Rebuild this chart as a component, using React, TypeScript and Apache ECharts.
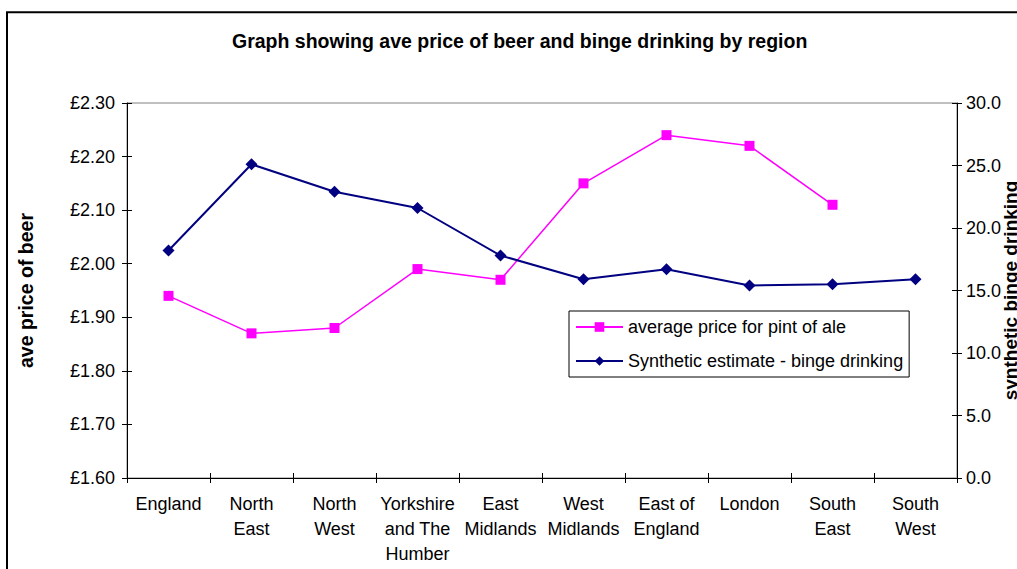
import React, { useEffect, useRef } from "react";
import * as echarts from "echarts";

const categories = [
  "England",
  "North\nEast",
  "North\nWest",
  "Yorkshire\nand The\nHumber",
  "East\nMidlands",
  "West\nMidlands",
  "East of\nEngland",
  "London",
  "South\nEast",
  "South\nWest",
];

const alePrice = [1.94, 1.87, 1.88, 1.99, 1.97, 2.15, 2.24, 2.22, 2.11, null];
const bingeDrinking = [18.2, 25.1, 22.9, 21.6, 17.8, 15.9, 16.7, 15.4, 15.5, 15.9];

const titleText = "Graph showing ave price of beer and binge drinking by region";
const priceSeriesName = "average price for pint of ale";
const bingeSeriesName = "Synthetic estimate - binge drinking";
const leftAxisName = "ave price of beer";
const rightAxisName = "synthetic binge drinking";

const FONT = "'Liberation Sans', Arial, sans-serif";

export default function App() {
  const ref = useRef<HTMLDivElement>(null);

  useEffect(() => {
    if (!ref.current) return;
    const chart = echarts.init(ref.current, undefined, { renderer: "svg" });
    const axisLineStyle = { color: "#000", width: 1 };
    chart.setOption({
      animation: false,
      backgroundColor: "#fff",
      textStyle: { fontFamily: FONT, color: "#000" },
      title: {
        text: titleText,
        left: 232,
        top: 31,
        padding: 0,
        textStyle: { fontFamily: FONT, fontSize: 19.5, fontWeight: "bold", color: "#000" },
      },
      legend: {
        orient: "vertical",
        left: 569,
        top: 311,
        padding: [6, 6, 6, 6],
        itemGap: 14,
        itemWidth: 47,
        itemHeight: 12,
        backgroundColor: "#fff",
        borderColor: "#000",
        borderWidth: 1,
        borderRadius: 0,
        textStyle: { fontFamily: FONT, fontSize: 18, color: "#000", lineHeight: 20 },
        data: [priceSeriesName, bingeSeriesName],
      },
      grid: {
        left: 127,
        right: 60,
        top: 103,
        bottom: 91,
        show: true,
        borderColor: "#808080",
        borderWidth: 1,
        containLabel: false,
        outerBoundsMode: "none",
      },
      xAxis: [
        {
          type: "category",
          data: categories,
          boundaryGap: true,
          position: "bottom",
          axisLine: { show: true, lineStyle: axisLineStyle },
          axisTick: { show: true, length: 5, inside: false, lineStyle: axisLineStyle },
          axisLabel: {
            interval: 0,
            fontFamily: FONT,
            fontSize: 18,
            color: "#000",
            lineHeight: 25,
            margin: 13,
          },
          splitLine: { show: false },
        },
        {
          type: "category",
          data: categories,
          boundaryGap: true,
          position: "bottom",
          axisLine: { show: false },
          axisTick: { show: true, length: 5, inside: true, lineStyle: axisLineStyle },
          axisLabel: { show: false },
          splitLine: { show: false },
        },
      ],
      yAxis: [
        {
          type: "value",
          position: "left",
          min: 1.6,
          max: 2.3,
          interval: 0.1,
          name: leftAxisName,
          nameLocation: "middle",
          nameGap: 91,
          nameMoveOverlap: false,
          nameTextStyle: { fontFamily: FONT, fontSize: 19.5, fontWeight: "bold", color: "#000" },
          axisLine: { show: true, lineStyle: axisLineStyle },
          axisTick: { show: true, length: 5, inside: false, lineStyle: axisLineStyle },
          axisLabel: {
            fontFamily: FONT,
            fontSize: 18,
            color: "#000",
            margin: 12,
            formatter: (v: number) => "£" + v.toFixed(2),
          },
          splitLine: { show: false },
        },
        {
          type: "value",
          position: "right",
          min: 0,
          max: 30,
          interval: 5,
          name: rightAxisName,
          nameLocation: "middle",
          nameGap: 44,
          nameMoveOverlap: false,
          nameTextStyle: { fontFamily: FONT, fontSize: 19, fontWeight: "bold", color: "#000" },
          axisLine: { show: true, lineStyle: axisLineStyle },
          axisTick: { show: true, length: 5, inside: false, lineStyle: axisLineStyle },
          axisLabel: {
            fontFamily: FONT,
            fontSize: 18,
            color: "#000",
            margin: 9,
            formatter: (v: number) => v.toFixed(1),
          },
          splitLine: { show: false },
        },
        {
          type: "value",
          position: "left",
          min: 1.6,
          max: 2.3,
          interval: 0.1,
          axisLine: { show: false },
          axisTick: { show: true, length: 5, inside: true, lineStyle: axisLineStyle },
          axisLabel: { show: false },
          splitLine: { show: false },
        },
        {
          type: "value",
          position: "right",
          min: 0,
          max: 30,
          interval: 5,
          axisLine: { show: false },
          axisTick: { show: true, length: 5, inside: true, lineStyle: axisLineStyle },
          axisLabel: { show: false },
          splitLine: { show: false },
        },
      ],
      series: [
        {
          name: priceSeriesName,
          type: "line",
          xAxisIndex: 0,
          yAxisIndex: 0,
          data: alePrice,
          connectNulls: false,
          symbol: "rect",
          symbolSize: 10,
          itemStyle: { color: "#FF00FF" },
          lineStyle: { color: "#FF00FF", width: 1.5 },
        },
        {
          name: bingeSeriesName,
          type: "line",
          xAxisIndex: 0,
          yAxisIndex: 1,
          data: bingeDrinking,
          symbol: "diamond",
          symbolSize: 12,
          itemStyle: { color: "#000080" },
          lineStyle: { color: "#000080", width: 2 },
        },
      ],
      graphic: [
        {
          type: "polyline",
          shape: { points: [[7, 569], [7, 12.3], [1017, 12.3]] },
          style: { stroke: "#000", lineWidth: 2, fill: "none" },
          silent: true,
        },
      ],
    });
    return () => chart.dispose();
  }, []);

  return (
    <div
      ref={ref}
      style={{ position: "fixed", left: 0, top: 0, width: 1017, height: 569 }}
    />
  );
}
